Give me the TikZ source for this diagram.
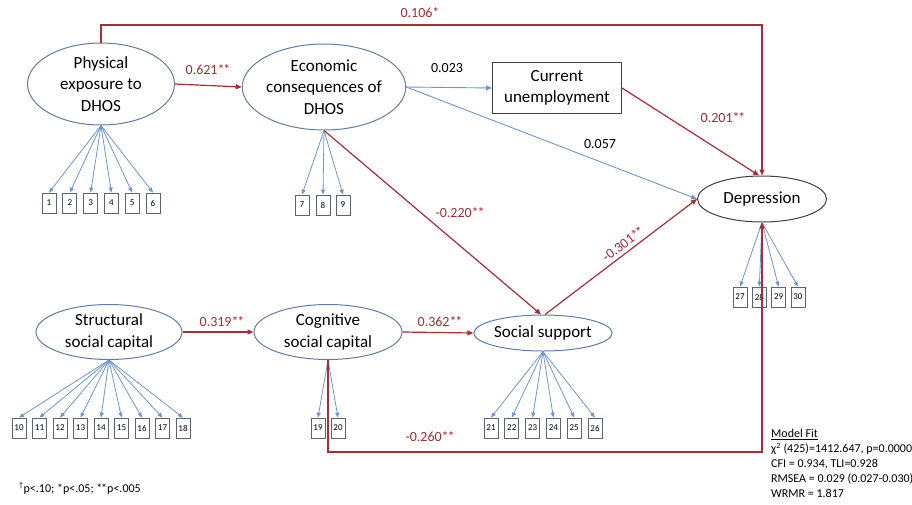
\documentclass[tikz,border=0pt]{standalone}
\usepackage{fontspec}
\setmainfont{Carlito}
\usetikzlibrary{arrows.meta,shapes.geometric}
\definecolor{pathred}{RGB}{168,45,52}
\definecolor{labred}{RGB}{160,45,50}
\definecolor{latblue}{RGB}{95,125,165}
\definecolor{arrblue}{RGB}{110,150,205}
\definecolor{boxgrey}{RGB}{90,100,115}
\newcommand{\twostar}{*\kern-1.2pt*}
\tikzset{
  latent/.style={ellipse, draw=latblue, line width=1pt, inner sep=0pt, align=center, font=\fontsize{17}{21.5}\selectfont},
  item/.style={rectangle, draw=boxgrey, line width=0.8pt, minimum width=14pt, minimum height=20pt, inner sep=0pt, font=\fontsize{9}{9}\selectfont},
  load/.style={arrblue, line width=0.8pt, -{Triangle[length=5pt,width=4pt]}},
  sig/.style={pathred, line width=1.2pt, -{Triangle[length=6pt,width=5pt]}},
  nsig/.style={arrblue, line width=0.9pt, -{Triangle[length=6pt,width=5pt]}},
  coef/.style={text=labred, font=\fontsize{14}{14}\selectfont},
  ncoef/.style={text=black, font=\fontsize{14}{14}\selectfont}
}
\begin{document}
\begin{tikzpicture}[x=1pt,y=-1pt]
\useasboundingbox (0,0) rectangle (912,504);

\node[latent, minimum width=147pt, minimum height=82pt] (phys) at (101,84) {Physical\\exposure to\\DHOS};
\node[latent, minimum width=148pt, minimum height=86pt] (econ) at (324,87) {Economic\\consequences of\\DHOS};
\node[draw=black!75, line width=1pt, minimum width=129pt, minimum height=51pt, inner sep=0pt, align=center, font=\fontsize{17}{21.5}\selectfont] (unemp) at (557,88) {Current\\unemployment};
\node[latent, draw=black!75, minimum width=129pt, minimum height=46pt] (dep) at (762,199) {Depression};
\node[latent, minimum width=146pt, minimum height=55pt] (struc) at (109,332) {Structural\\social capital};
\node[latent, minimum width=148pt, minimum height=55pt] (cog) at (328,332) {Cognitive\\social capital};
\node[latent, minimum width=137pt, minimum height=36pt] (soc) at (543,333) {Social support};

% indicators
\foreach \i in {1,...,6} {\node[item] (v\i) at ({49+20.8*(\i-1)},203) {\i}; \draw[load] (phys.south) -- (v\i.north);}
\foreach \i/\x in {7/302,8/323,9/343} {\node[item] (v\i) at (\x,205) {\i}; \draw[load] (econ.south) -- (v\i.north);}
\foreach \i in {10,...,18} {\node[item] (v\i) at ({19+20.5*(\i-10)},428) {\i}; \draw[load] (struc.south) -- (v\i.north);}
\foreach \i/\x in {19/318,20/338} {\node[item] (v\i) at (\x,428) {\i}; \draw[load] (cog.south) -- (v\i.north);}
\foreach \i in {21,...,26} {\node[item] (v\i) at ({491+20.8*(\i-21)},428) {\i}; \draw[load] (soc.south) -- (v\i.north);}
\foreach \i in {27,...,30} {\node[item] (v\i) at ({740+19.3*(\i-27)},297) {\i}; \draw[load] (dep.south) -- (v\i.north);}

% structural paths
\coordinate (top) at (762,25);
\coordinate (bot) at (762,452);
\draw[sig] (phys.east) -- (econ.west);
\draw[sig] (phys.north) |- (top) -- (dep.north);
\draw[nsig] (econ.east) -- (unemp.west);
\draw[nsig] (econ.east) -- (dep.west);
\draw[sig] (unemp.east) -- ([xshift=-3pt]dep.north);
\draw[sig] (econ.south) -- ([xshift=-2pt]soc.north);
\draw[sig] ([xshift=2pt]soc.north) -- (dep.west) node[coef, sloped, above, pos=0.55] (l301) {-0.301\twostar};
\draw[sig] (struc.east) -- (cog.west);
\draw[sig] (cog.east) -- (soc.west);
\draw[sig] (cog.south) |- (bot) -- (dep.south);

\node[coef] (l621) at (208,70) {0.621\twostar};
\node[coef] (l106) at (420,13) {0.106*};
\node[ncoef] (l023) at (447,68) {0.023};
\node[ncoef] (l057) at (600,144) {0.057};
\node[coef] (l201) at (723,118) {0.201\twostar};
\node[coef] (l220) at (460,213) {-0.220\twostar};
\node[coef] (l319) at (222,322) {0.319\twostar};
\node[coef] (l362) at (440,322) {0.362\twostar};
\node[coef] (l260) at (430,437) {-0.260\twostar};

\node[anchor=north west, align=left, inner sep=0pt, font=\fontsize{12}{15}\selectfont] (fit) at (771,429) {\underline{Model Fit}\\χ\textsuperscript{2} (425)=1412.647, p=0.0000\\CFI = 0.934, TLI=0.928\\RMSEA = 0.029 (0.027-0.030)\\WRMR = 1.817};
\node[anchor=west, inner sep=0pt, font=\fontsize{12}{12}\selectfont] (note) at (19,488) {\textsuperscript{†}p<.10; *p<.05; \twostar p<.005};
\end{tikzpicture}
\end{document}
